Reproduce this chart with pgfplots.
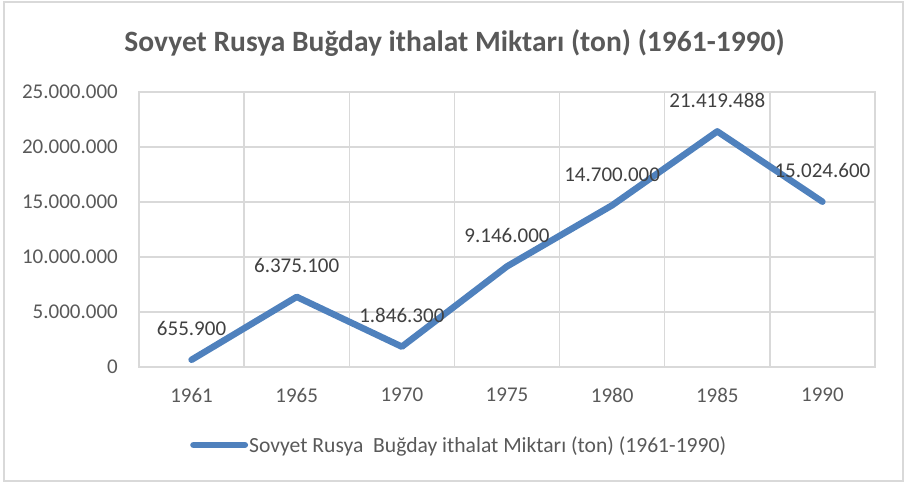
\documentclass[border=0pt]{standalone}
\usepackage{pgfplots}
\pgfplotsset{compat=1.18}
\usepackage{pgfplotstable}
\usepackage{fontspec}
\setmainfont{Carlito}
\definecolor{lineblue}{HTML}{4F81BD}
\definecolor{gridgray}{HTML}{D9D9D9}
\definecolor{txtgray}{HTML}{595959}
\definecolor{lblgray}{HTML}{404040}
\newcommand{\tickfont}{\fontsize{21bp}{25bp}\selectfont}
\newcommand{\legfont}{\fontsize{21.6bp}{25bp}\selectfont}
\newcommand{\titlefont}{\fontsize{29.5bp}{34bp}\selectfont\bfseries}
\pgfplotstableread{
x y lab
0 655900 655.900
1 6375100 6.375.100
2 1846300 1.846.300
3 9146000 9.146.000
4 14700000 14.700.000
5 21419488 21.419.488
6 15024600 15.024.600
}\datatable
\begin{document}
\begin{tikzpicture}[x=1bp,y=1bp]
\path (0,0) rectangle (905,484);
\draw[gridgray, line width=1.3bp] (4,3) rectangle (903,482);
\begin{axis}[
  at={(139bp,117bp)}, anchor=south west,
  scale only axis, width=736bp, height=275bp,
  xmin=-0.5, xmax=6.5, ymin=0, ymax=25000000,
  xtick={0,1,2,3,4,5,6},
  xticklabels={1961,1965,1970,1975,1980,1985,1990},
  minor xtick={-0.5,0.5,1.5,2.5,3.5,4.5,5.5,6.5},
  xminorgrids=true, xmajorgrids=false, ymajorgrids=true,
  ytick={0,5000000,10000000,15000000,20000000,25000000},
  yticklabels={0,5.000.000,10.000.000,15.000.000,20.000.000,25.000.000},
  scaled y ticks=false,
  grid style={gridgray, line width=1.3bp},
  minor grid style={gridgray, line width=1.3bp},
  major grid style={gridgray, line width=1.3bp},
  axis line style={gridgray, line width=1.3bp},
  tick style={draw=none},
  major tick length=0pt, minor tick length=0pt,
  yticklabel style={anchor=east, inner sep=0pt, xshift=-21bp, font=\tickfont, text=txtgray},
  xticklabel style={anchor=center, inner sep=0pt, yshift=-28bp, font=\tickfont, text=txtgray},
  legend style={at={(axis description cs:0.0693,-0.2836)}, anchor=west, draw=none, fill=none,
    inner sep=0pt, font=\legfont, text=txtgray, nodes={inner sep=1bp}},
  legend cell align=left,
  legend image code/.code={\draw[lineblue, line width=6.5bp, line cap=round] (3.3bp,0) -- (54.7bp,0);},
  clip=false,
]
\addplot[lineblue, line width=6.5bp, line cap=round, line join=round,
  nodes near coords, point meta=explicit symbolic,
  every node near coord/.append style={anchor=center, inner sep=0pt, yshift=31bp, font=\tickfont, text=lblgray, line width=0pt}]
  table[x=x, y=y, meta=lab] {\datatable};
\addlegendentry{Sovyet Rusya\ \ Buğday ithalat Miktarı (ton) (1961-1990)}
\end{axis}
\node[anchor=base, font=\titlefont, text=txtgray, inner sep=0pt] at (454.5,432) {Sovyet Rusya Buğday ithalat Miktarı (ton) (1961-1990)};
\end{tikzpicture}
\end{document}
